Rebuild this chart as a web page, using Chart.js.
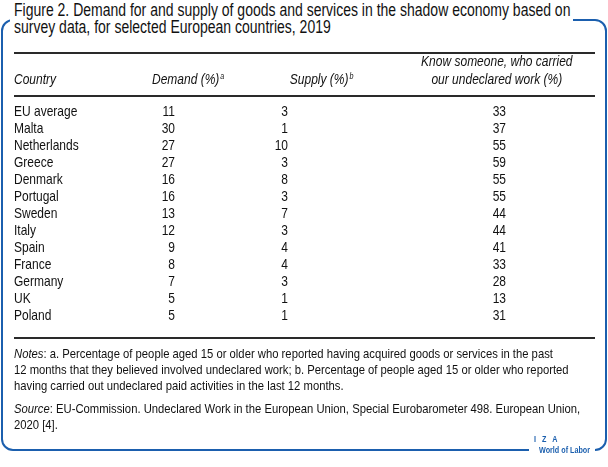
<!DOCTYPE html>
<html>
<head>
<meta charset="utf-8">
<script src="https://cdn.jsdelivr.net/npm/chart.js@4.4.1/dist/chart.umd.min.js"></script>
<style>
    body { margin: 0; width: 608px; height: 467px; position: relative; overflow: hidden; background: #fff;
           font-family: 'Liberation Sans', Arial, sans-serif; color: #111; }
    .frame { position: absolute; left: 1px; top: 19px; width: 606px; height: 432px; box-sizing: border-box;
             border: 2px solid #1b5fae; border-radius: 12px; }
    .sq { transform: scaleX(0.8); transform-origin: 0 0; white-space: nowrap; }
    .title { position: absolute; left: 10px; top: 2px; width: 563px; height: 36px; padding-left: 4px; box-sizing: border-box;
             background: #fff; font-size: 17.5px; line-height: 17px; }
    #wrap { position: absolute; left: 0; top: 40px; width: 608px; height: 310px; }
    #wrap canvas { display: block; }
    .notes, .source { position: absolute; left: 14px; font-size: 13.5px; line-height: 16px; }
    .notes .sq, .source .sq { transform: scaleX(0.835); }
    .notes { top: 346px; }
    .source { top: 401px; }
    .logo { position: absolute; left: 529px; top: 434px; width: 66px; height: 26px; background: #fff;
            color: #1b5fae; font-weight: bold; font-size: 9px; line-height: 11px; }
</style>
</head>
<body>
<div class="frame"></div>
<div class="title"><div class="sq">Figure 2. Demand for and supply of goods and services in the shadow economy based on<br>survey data, for selected European countries, 2019</div></div>
<div id="wrap"><canvas id="table" width="608" height="310"></canvas></div>
<div class="notes"><div class="sq"><i>Notes</i>: a. Percentage of people aged 15 or older who reported having acquired goods or services in the past<br>12 months that they believed involved undeclared work; b. Percentage of people aged 15 or older who reported<br>having carried out undeclared paid activities in the last 12 months.</div></div>
<div class="source"><div class="sq"><i>Source</i>: EU-Commission. Undeclared Work in the European Union, Special Eurobarometer 498. European Union,<br>2020 [4].</div></div>
<div class="logo"><div class="sq" style="margin-left:5px;letter-spacing:2.5px">I Z A</div><div class="sq" style="margin-left:10px">World of Labor</div></div>

<script>
// Table data
const countries = ['EU average', 'Malta', 'Netherlands', 'Greece', 'Denmark', 'Portugal', 'Sweden',
    'Italy', 'Spain', 'France', 'Germany', 'UK', 'Poland'];
const demand = [11, 30, 27, 27, 16, 16, 13, 12, 9, 8, 7, 5, 5];
const supply = [3, 1, 10, 3, 8, 3, 7, 3, 4, 4, 3, 1, 1];
const knowSomeone = [33, 37, 55, 59, 55, 55, 44, 44, 41, 33, 28, 13, 31];
const columnHeads = [['Demand (%)'], ['Supply (%)'], ['Know someone, who carried', 'our undeclared work (%)']];
const columnNotes = ['a', 'b', ''];

// Layout: where each numeric column sits (0-100 across the table body)
const columnAnchor = [8.9, 33.4, 80.7];
const headAnchor = [3.9, 33.8, 78.7];
const headAlign = ['left', 'left', 'center'];

const FONT = "'Liberation Sans', Arial, sans-serif";
const INK = '#111';
const SQ = 0.8; // horizontal squeeze to mimic the condensed face

const series = [demand, supply, knowSomeone];

// draw condensed text, returns drawn width
function squeezed(ctx, text, x, y, align) {
    const w = ctx.measureText(text).width * SQ;
    let left = x;
    if (align === 'right') left = x - w;
    else if (align === 'center') left = x - w / 2;
    ctx.save();
    ctx.translate(left, y);
    ctx.scale(SQ, 1);
    ctx.textAlign = 'left';
    ctx.fillText(text, 0, 0);
    ctx.restore();
    return w;
}

// crisp 2px horizontal rule
function rule(ctx, x0, x1, y) {
    ctx.fillRect(Math.round(x0), Math.round(y), Math.round(x1 - x0), 2);
}

const tablePlugin = {
    id: 'tableText',
    afterDraw(chart) {
        const ctx = chart.ctx;
        const x = chart.scales.x;
        const yScale = chart.scales.y;
        const left = yScale.left;
        const right = chart.chartArea.right;
        const top = chart.chartArea.top;

        ctx.save();
        // Rules: above the headers, below the headers, below the last row
        ctx.fillStyle = '#2a2a2a';
        rule(ctx, left, right, top - 60);
        rule(ctx, left, right, top - 17);
        rule(ctx, left, right, top + 225);

        // Column headers
        ctx.fillStyle = INK;
        ctx.textBaseline = 'middle';
        ctx.font = 'italic 15px ' + FONT;
        squeezed(ctx, 'Country', left, top - 32, 'left');
        columnHeads.forEach((lines, i) => {
            const px = x.getPixelForValue(headAnchor[i]);
            lines.forEach((line, k) => {
                const y = top - 32 - (lines.length - 1 - k) * 18;
                ctx.font = 'italic 15px ' + FONT;
                const w = squeezed(ctx, line, px, y, headAlign[i]);
                if (columnNotes[i]) {
                    ctx.font = 'italic 9px ' + FONT;
                    squeezed(ctx, columnNotes[i], px + w + 1, y - 4, 'left');
                }
            });
        });

        // Row labels from the category scale, cells from the points
        ctx.font = '15px ' + FONT;
        countries.forEach((c, j) => {
            squeezed(ctx, c, left, yScale.getPixelForValue(j), 'left');
        });
        chart.data.datasets.forEach((ds, i) => {
            const meta = chart.getDatasetMeta(i);
            meta.data.forEach((pt, j) => {
                squeezed(ctx, String(series[i][j]), pt.x, pt.y, 'right');
            });
        });
        ctx.restore();
    }
};

new Chart(document.getElementById('table'), {
    type: 'scatter',
    data: {
        datasets: series.map((values, i) => ({
            label: columnHeads[i].join(' '),
            data: countries.map((c, j) => ({ x: columnAnchor[i], y: c })),
            pointRadius: 0,
            showLine: false
        }))
    },
    options: {
        responsive: false,
        animation: false,
        events: [],
        layout: { padding: { left: 14, right: 13, top: 72, bottom: 34 } },
        plugins: { legend: { display: false }, tooltip: { enabled: false } },
        scales: {
            x: { type: 'linear', min: 0, max: 100, display: false },
            y: {
                type: 'category',
                labels: countries,
                offset: false,
                grid: { display: false },
                border: { display: false },
                afterFit(scale) { scale.width = 120; },
                ticks: { display: false, autoSkip: false }
            }
        }
    },
    plugins: [tablePlugin]
});
</script>
</body>
</html>
